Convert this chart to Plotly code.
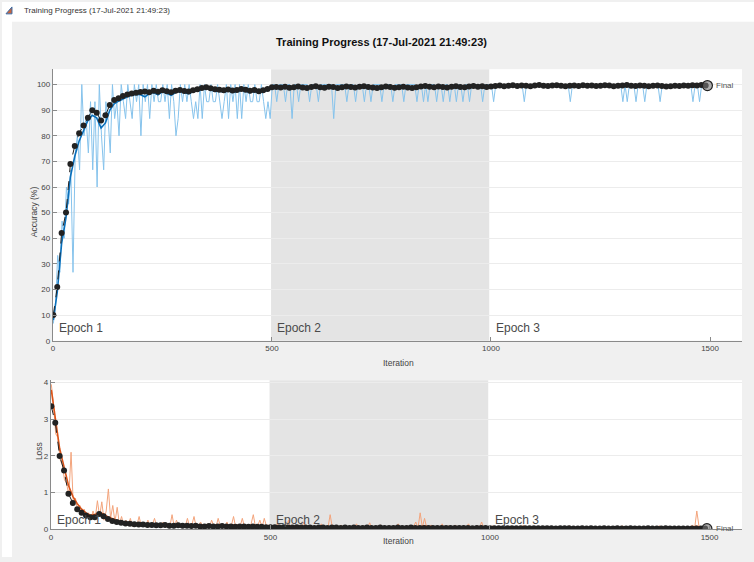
import plotly.graph_objects as go

W, H = 754, 562
EPOCH_LEN = 498
FINAL_ITER = 1494

iter_ticks = [0, 500, 1000, 1500]
acc_ticks = [0, 10, 20, 30, 40, 50, 60, 70, 80, 90, 100]
loss_ticks = [0, 1, 2, 3, 4]
epoch_names = ["Epoch 1", "Epoch 2", "Epoch 3"]

# mini-batch (raw) training accuracy, every 5 iterations starting at 1
train_acc = [
    6.7, 13.3, 33.3, 26.7, 46.7, 40, 60, 53.3, 66.7, 26.7,
    73.3, 80, 66.7, 100, 80, 86.7, 73.3, 93.3, 66.7, 93.3,
    60, 100, 80, 66.7, 93.3, 86.7, 73.3, 100, 86.7, 93.3,
    80, 100, 93.3, 86.7, 100, 93.3, 86.7, 100, 93.3, 100,
    80, 100, 93.3, 100, 86.7, 100, 93.3, 100, 93.3, 93.3,
    100, 93.3, 100, 86.7, 100, 93.3, 80, 86.7, 100, 93.3,
    100, 93.3, 100, 93.3, 86.7, 93.3, 86.7, 100, 86.7, 100,
    93.3, 93.3, 100, 93.3, 93.3, 100, 93.3, 86.7, 93.3, 100,
    86.7, 100, 93.3, 100, 86.7, 100, 86.7, 100, 93.3, 100,
    93.3, 93.3, 100, 93.3, 93.3, 100, 93.3, 86.7, 93.3, 86.7,
    100, 100, 93.3, 100, 100, 100, 93.3, 100, 100, 86.7,
    100, 100, 93.3, 100, 100, 100, 100, 93.3, 100, 100,
    100, 93.3, 100, 100, 100, 100, 100, 100, 86.7, 100,
    100, 100, 100, 100, 93.3, 100, 100, 100, 93.3, 100,
    100, 100, 93.3, 100, 100, 93.3, 100, 100, 100, 100,
    93.3, 100, 100, 100, 100, 93.3, 100, 100, 100, 100,
    93.3, 100, 100, 100, 100, 100, 93.3, 100, 100, 93.3,
    100, 93.3, 100, 100, 100, 93.3, 100, 100, 93.3, 100,
    100, 93.3, 100, 100, 93.3, 100, 100, 93.3, 100, 100,
    93.3, 100, 100, 100, 100, 100, 93.3, 100, 100, 100,
    100, 93.3, 100, 100, 100, 100, 100, 100, 100, 100,
    100, 100, 100, 100, 100, 93.3, 100, 100, 100, 100,
    100, 100, 100, 100, 100, 100, 100, 100, 100, 100,
    100, 100, 100, 100, 100, 100, 93.3, 100, 100, 100,
    100, 100, 100, 100, 100, 100, 100, 100, 100, 100,
    100, 100, 100, 100, 100, 100, 100, 100, 100, 100,
    93.3, 100, 93.3, 100, 100, 100, 93.3, 100, 100, 100,
    93.3, 100, 100, 100, 100, 100, 100, 93.3, 100, 100,
    100, 100, 100, 100, 100, 100, 100, 100, 100, 100,
    100, 100, 93.3, 100, 100, 93.3, 100, 100, 100,
]

# smoothed training accuracy, every 10 iterations (1, 10, 20, ...)
smooth_acc = [
    8, 19, 38, 48, 64, 72, 78, 82, 86, 88,
    87, 83, 85, 90, 92.5, 93.5, 94.5, 95.2, 95.8, 96.2,
    96.0, 95.2, 96.5, 96.9, 96.0, 97.2, 96.6, 95.8, 96.9, 97.4,
    96.8, 96.4, 97.2, 97.8, 98.2, 98.6, 97.8, 97.3, 97.5, 97.0,
    97.6, 96.9, 97.3, 97.9, 97.4, 96.8, 97.4, 96.7, 97.2, 97.9,
    98.4, 98.7, 98.2, 98.8, 98.4, 98.7, 99.0, 98.5, 98.3, 98.8,
    99.0, 98.6, 98.3, 98.9, 98.7, 98.2, 98.6, 99.0, 98.8, 98.5,
    98.9, 99.1, 98.7, 98.5, 98.3, 98.6, 99.0, 98.8, 98.4, 98.7,
    98.9, 98.5, 98.3, 98.7, 99.0, 99.2, 98.9, 98.6, 99.0, 98.8,
    98.5, 98.9, 99.1, 98.8, 98.6, 99.0, 99.2, 98.9, 99.1, 98.8,
    99.0, 99.3, 99.5, 99.2, 99.4, 99.6, 99.3, 99.5, 99.4, 99.2,
    99.5, 99.7, 99.4, 99.3, 99.5, 99.6, 99.4, 99.2, 99.4, 99.5,
    99.3, 99.6, 99.4, 99.5, 99.3, 99.4, 99.6, 99.5, 99.2, 99.4,
    99.1, 99.5, 99.2, 99.3, 99.5, 99.4, 99.2, 99.4, 99.5, 99.3,
    99.1, 99.2, 99.4, 99.3, 99.5, 99.2, 99.0, 99.3, 99.6, 99.5,
]

# validation accuracy, every 10 iterations (1, 10, 20, ...)
val_acc = [
    10, 21, 42, 50, 69, 76, 81, 84, 87, 90,
    89, 86, 88, 92, 94, 94.6, 95.5, 96.1, 96.5, 96.8,
    97.1, 97.3, 97.0, 97.6, 97.2, 97.8, 97.4, 97.0, 97.6, 97.9,
    97.5, 97.3, 97.8, 98.2, 98.6, 98.9, 98.5, 98.2, 98.0, 97.8,
    98.1, 97.7, 97.9, 98.3, 98.0, 97.6, 97.9, 97.4, 97.8, 98.3,
    98.9, 99.0, 98.8, 99.1, 98.7, 98.9, 99.2, 98.8, 98.6, 99.0,
    99.3, 98.9, 98.7, 99.1, 99.0, 98.6, 98.9, 99.2, 99.0, 98.8,
    99.1, 99.3, 99.0, 98.8, 98.6, 98.9, 99.2, 99.0, 98.7, 98.9,
    99.1, 98.8, 98.6, 98.9, 99.2, 99.4, 99.1, 98.9, 99.2, 99.0,
    98.8, 99.1, 99.3, 99.0, 98.9, 99.2, 99.4, 99.1, 99.3, 99.0,
    99.2, 99.4, 99.6, 99.3, 99.5, 99.7, 99.4, 99.6, 99.5, 99.3,
    99.6, 99.8, 99.5, 99.4, 99.6, 99.7, 99.5, 99.3, 99.5, 99.6,
    99.4, 99.7, 99.5, 99.6, 99.4, 99.5, 99.7, 99.6, 99.3, 99.5,
    99.6, 99.8, 99.5, 99.4, 99.6, 99.5, 99.3, 99.5, 99.6, 99.4,
    99.2, 99.3, 99.5, 99.4, 99.6, 99.5, 99.7, 99.6, 99.8, 99.6,
]
final_acc = 99.6

# mini-batch (raw) training loss, every 5 iterations starting at 1
train_loss = [
    3.95, 3.4, 2.6, 2.5, 1.9, 1.75, 1.35, 1.25, 0.9, 2.1,
    0.7, 0.85, 0.5, 0.65, 0.4, 0.55, 0.3, 0.45, 0.25, 0.5,
    0.3, 0.78, 0.35, 0.75, 0.25, 0.5, 1.1, 0.3, 0.65, 0.2,
    0.6, 0.15, 0.35, 0.12, 0.25, 0.1, 0.3, 0.08, 0.2, 0.12,
    0.35, 0.08, 0.15, 0.1, 0.25, 0.06, 0.12, 0.3, 0.08, 0.15,
    0.1, 0.2, 0.05, 0.12, 0.08, 0.4, 0.06, 0.25, 0.1, 0.05,
    0.15, 0.08, 0.3, 0.06, 0.12, 0.35, 0.05, 0.1, 0.2, 0.06,
    0.08, 0.15, 0.05, 0.25, 0.1, 0.06, 0.3, 0.08, 0.12, 0.05,
    0.2, 0.06, 0.1, 0.35, 0.05, 0.12, 0.08, 0.3, 0.06, 0.1,
    0.05, 0.15, 0.4, 0.06, 0.1, 0.25, 0.05, 0.3, 0.08, 0.12,
    0.04, 0.08, 0.03, 0.15, 0.05, 0.03, 0.1, 0.04, 0.25, 0.03,
    0.05, 0.12, 0.03, 0.06, 0.04, 0.2, 0.03, 0.08, 0.05, 0.03,
    0.1, 0.03, 0.05, 0.15, 0.03, 0.06, 0.04, 0.4, 0.05, 0.03,
    0.08, 0.03, 0.12, 0.04, 0.03, 0.06, 0.1, 0.03, 0.05, 0.15,
    0.03, 0.05, 0.1, 0.03, 0.04, 0.18, 0.03, 0.06, 0.03, 0.08,
    0.12, 0.03, 0.05, 0.03, 0.1, 0.04, 0.03, 0.07, 0.15, 0.03,
    0.05, 0.03, 0.1, 0.04, 0.03, 0.08, 0.2, 0.03, 0.45, 0.05,
    0.3, 0.03, 0.06, 0.12, 0.03, 0.05, 0.08, 0.03, 0.15, 0.04,
    0.03, 0.1, 0.04, 0.03, 0.12, 0.05, 0.03, 0.08, 0.03, 0.06,
    0.15, 0.03, 0.05, 0.03, 0.1, 0.04, 0.2, 0.03, 0.05, 0.03,
    0.02, 0.1, 0.03, 0.02, 0.05, 0.02, 0.03, 0.08, 0.02, 0.03,
    0.02, 0.04, 0.02, 0.03, 0.02, 0.12, 0.02, 0.03, 0.05, 0.02,
    0.03, 0.02, 0.06, 0.02, 0.02, 0.04, 0.02, 0.03, 0.02, 0.05,
    0.02, 0.03, 0.02, 0.05, 0.02, 0.02, 0.1, 0.02, 0.03, 0.02,
    0.04, 0.02, 0.02, 0.03, 0.02, 0.06, 0.02, 0.02, 0.03, 0.02,
    0.02, 0.05, 0.02, 0.02, 0.03, 0.02, 0.04, 0.02, 0.02, 0.03,
    0.1, 0.02, 0.08, 0.02, 0.03, 0.02, 0.09, 0.02, 0.03, 0.02,
    0.08, 0.02, 0.03, 0.02, 0.04, 0.02, 0.02, 0.1, 0.02, 0.03,
    0.02, 0.03, 0.02, 0.05, 0.02, 0.02, 0.03, 0.02, 0.04, 0.02,
    0.02, 0.03, 0.12, 0.02, 0.5, 0.08, 0.02, 0.03, 0.02,
]

# smoothed training loss, every 10 iterations
smooth_loss = [
    3.8, 3.0, 2.2, 1.7, 1.2, 0.9, 0.7, 0.55, 0.45, 0.38,
    0.4, 0.46, 0.42, 0.34, 0.28, 0.24, 0.21, 0.19, 0.17, 0.16,
    0.16, 0.15, 0.14, 0.15, 0.13, 0.14, 0.15, 0.12, 0.13, 0.12,
    0.12, 0.13, 0.12, 0.12, 0.11, 0.12, 0.11, 0.11, 0.12, 0.1,
    0.11, 0.1, 0.12, 0.1, 0.1, 0.11, 0.1, 0.12, 0.1, 0.1,
    0.08, 0.07, 0.08, 0.07, 0.07, 0.06, 0.07, 0.06, 0.06, 0.07,
    0.06, 0.06, 0.05, 0.07, 0.06, 0.05, 0.06, 0.05, 0.05, 0.06,
    0.05, 0.05, 0.06, 0.05, 0.05, 0.06, 0.05, 0.05, 0.05, 0.06,
    0.05, 0.05, 0.06, 0.05, 0.07, 0.09, 0.07, 0.06, 0.05, 0.05,
    0.05, 0.05, 0.04, 0.05, 0.05, 0.04, 0.05, 0.05, 0.04, 0.05,
    0.04, 0.04, 0.03, 0.04, 0.03, 0.03, 0.03, 0.04, 0.03, 0.03,
    0.03, 0.03, 0.03, 0.03, 0.03, 0.03, 0.03, 0.03, 0.03, 0.03,
    0.03, 0.03, 0.03, 0.03, 0.03, 0.03, 0.03, 0.03, 0.03, 0.03,
    0.04, 0.04, 0.03, 0.03, 0.04, 0.03, 0.03, 0.04, 0.03, 0.03,
    0.03, 0.03, 0.03, 0.03, 0.03, 0.03, 0.04, 0.08, 0.05, 0.04,
]

# validation loss, every 10 iterations
val_loss = [
    3.35, 2.9, 2.0, 1.6, 0.97, 0.72, 0.55, 0.45, 0.38, 0.33,
    0.33, 0.42, 0.36, 0.28, 0.23, 0.2, 0.18, 0.16, 0.15, 0.14,
    0.13, 0.13, 0.12, 0.12, 0.11, 0.11, 0.12, 0.1, 0.1, 0.11,
    0.1, 0.1, 0.09, 0.1, 0.08, 0.08, 0.09, 0.08, 0.08, 0.09,
    0.08, 0.08, 0.07, 0.08, 0.08, 0.07, 0.08, 0.07, 0.07, 0.06,
    0.06, 0.06, 0.05, 0.06, 0.05, 0.05, 0.06, 0.05, 0.05, 0.05,
    0.04, 0.05, 0.05, 0.04, 0.05, 0.05, 0.04, 0.05, 0.04, 0.05,
    0.04, 0.04, 0.05, 0.04, 0.04, 0.05, 0.04, 0.04, 0.04, 0.05,
    0.04, 0.04, 0.05, 0.04, 0.04, 0.04, 0.04, 0.04, 0.04, 0.04,
    0.04, 0.04, 0.04, 0.04, 0.04, 0.04, 0.03, 0.04, 0.04, 0.04,
    0.03, 0.03, 0.03, 0.03, 0.03, 0.03, 0.03, 0.03, 0.03, 0.03,
    0.03, 0.03, 0.03, 0.03, 0.03, 0.02, 0.03, 0.03, 0.03, 0.02,
    0.02, 0.03, 0.02, 0.03, 0.02, 0.02, 0.03, 0.02, 0.02, 0.03,
    0.02, 0.02, 0.03, 0.02, 0.02, 0.02, 0.03, 0.02, 0.02, 0.02,
    0.03, 0.02, 0.02, 0.02, 0.02, 0.02, 0.02, 0.02, 0.02, 0.02,
]
final_loss = 0.02

train_iter = [1 + 5 * i for i in range(len(train_acc))]
train_iter_l = [1 + 5 * i for i in range(len(train_loss))]
val_iter = [1] + [10 * k for k in range(1, len(val_acc))]
smooth_iter = [1] + [10 * k for k in range(1, len(smooth_acc))]
val_iter_l = [1] + [10 * k for k in range(1, len(val_loss))]
smooth_iter_l = [1] + [10 * k for k in range(1, len(smooth_loss))]


def px_x(p):
    return p / W


def px_y(p):
    return 1 - p / H


FONT = "Liberation Sans, Arial, Helvetica, sans-serif"
VAL_COLOR = "#222222"
PANEL = "#f0f0f0"

fig = go.Figure()

# ---- accuracy panel ----
fig.add_trace(go.Scatter(x=train_iter, y=train_acc, mode="lines",
                         line=dict(color="#86c3ec", width=1), xaxis="x", yaxis="y"))
fig.add_trace(go.Scatter(x=smooth_iter, y=smooth_acc, mode="lines",
                         line=dict(color="#0a6fba", width=1.6), xaxis="x", yaxis="y"))
fig.add_trace(go.Scatter(x=val_iter, y=val_acc, mode="lines+markers",
                         line=dict(color=VAL_COLOR, width=1, dash="dash"),
                         marker=dict(color=VAL_COLOR, size=6), xaxis="x", yaxis="y"))
fig.add_trace(go.Scatter(x=[FINAL_ITER], y=[final_acc], mode="markers",
                         marker=dict(color="rgba(120,120,120,0.6)", size=10,
                                     line=dict(color="#222", width=1.2)),
                         xaxis="x", yaxis="y"))

# ---- loss panel ----
fig.add_trace(go.Scatter(x=train_iter_l, y=train_loss, mode="lines",
                         line=dict(color="#f3a47c", width=1), xaxis="x2", yaxis="y2"))
fig.add_trace(go.Scatter(x=smooth_iter_l, y=smooth_loss, mode="lines",
                         line=dict(color="#d95319", width=1.6), xaxis="x2", yaxis="y2"))
fig.add_trace(go.Scatter(x=val_iter_l, y=val_loss, mode="lines+markers",
                         line=dict(color=VAL_COLOR, width=1, dash="dash"),
                         marker=dict(color=VAL_COLOR, size=6), xaxis="x2", yaxis="y2"))
fig.add_trace(go.Scatter(x=[FINAL_ITER], y=[final_loss], mode="markers",
                         marker=dict(color="rgba(120,120,120,0.6)", size=10,
                                     line=dict(color="#222", width=1.2)),
                         xaxis="x2", yaxis="y2"))

axis_common = dict(showline=True, linecolor="#8a8a8a", linewidth=1, ticks="inside",
                   ticklen=4, tickcolor="#8a8a8a", tickfont=dict(family=FONT, size=8, color="#444"),
                   zeroline=False, fixedrange=True)

fig.update_layout(
    width=W, height=H, autosize=False,
    margin=dict(l=0, r=0, t=0, b=0),
    paper_bgcolor=PANEL, plot_bgcolor="white",
    showlegend=False, hovermode=False,
    xaxis=dict(domain=[px_x(51), px_x(742)], anchor="y", range=[0, 1573],
               tickvals=iter_ticks, showgrid=False, **axis_common),
    yaxis=dict(domain=[px_y(343), px_y(68)], anchor="x", range=[0, 106],
               tickvals=acc_ticks, showgrid=True, gridcolor="#ececec", gridwidth=1,
               **axis_common),
    xaxis2=dict(domain=[px_x(49), px_x(742)], anchor="y2", range=[0, 1574],
                tickvals=iter_ticks, showgrid=False, **axis_common),
    yaxis2=dict(domain=[px_y(534), px_y(383)], anchor="x2", range=[0, 4.06],
                tickvals=loss_ticks, showgrid=True, gridcolor="#ececec", gridwidth=1,
                **axis_common),
)

shapes = [
    # grey panel on right and bottom margins (explicit)
    dict(type="rect", xref="paper", yref="paper", x0=px_x(742), x1=1, y0=0, y1=px_y(20),
         fillcolor=PANEL, line=dict(width=0), layer="below"),
    dict(type="rect", xref="paper", yref="paper", x0=px_x(10), x1=1, y0=0, y1=px_y(534),
         fillcolor=PANEL, line=dict(width=0), layer="below"),
    # white window title strip and left border
    dict(type="rect", xref="paper", yref="paper", x0=0, x1=1, y0=px_y(20), y1=1,
         fillcolor="white", line=dict(width=0), layer="below"),
    dict(type="rect", xref="paper", yref="paper", x0=0, x1=px_x(10), y0=0, y1=1,
         fillcolor="white", line=dict(width=0), layer="below"),
    # small window icon
    dict(type="path", xref="paper", yref="paper",
         path="M %f %f L %f %f L %f %f Z" % (px_x(4), px_y(12), px_x(10), px_y(5), px_x(10), px_y(12)),
         fillcolor="#c8643c", line=dict(color="#3c6ea8", width=1), layer="below"),
    # epoch 2 shading
    dict(type="rect", xref="x", yref="y domain", x0=EPOCH_LEN, x1=2 * EPOCH_LEN, y0=0, y1=1,
         fillcolor="#e4e4e4", line=dict(width=0), layer="below"),
    dict(type="rect", xref="x2", yref="y2 domain", x0=EPOCH_LEN, x1=2 * EPOCH_LEN, y0=0, y1=1,
         fillcolor="#e4e4e4", line=dict(width=0), layer="below"),
]
fig.update_layout(shapes=shapes)

ann = []
# window title
ann.append(dict(xref="paper", yref="paper", x=px_x(20), y=px_y(9), xanchor="left", yanchor="middle",
                text="Training Progress (17-Jul-2021 21:49:23)", showarrow=False,
                font=dict(family=FONT, size=8, color="#333")))
# main title
ann.append(dict(xref="paper", yref="paper", x=px_x(381), y=px_y(40), xanchor="center", yanchor="middle",
                text="<b>Training Progress (17-Jul-2021 21:49:23)</b>", showarrow=False,
                font=dict(family=FONT, size=11, color="#111")))
# axis titles
ann.append(dict(xref="paper", yref="paper", x=px_x(25), y=px_y(212), textangle=-90,
                text="Accuracy (%)", showarrow=False, font=dict(family=FONT, size=8.5, color="#444")))
ann.append(dict(xref="paper", yref="paper", x=px_x(398), y=px_y(366),
                text="Iteration", showarrow=False, font=dict(family=FONT, size=8.5, color="#444")))
ann.append(dict(xref="paper", yref="paper", x=px_x(30), y=px_y(466), textangle=-90,
                text="Loss", showarrow=False, font=dict(family=FONT, size=8.5, color="#444")))
ann.append(dict(xref="paper", yref="paper", x=px_x(398), y=px_y(553),
                text="Iteration", showarrow=False, font=dict(family=FONT, size=8.5, color="#444")))
# epoch labels
for i, name in enumerate(epoch_names):
    ann.append(dict(xref="x", yref="y", x=i * EPOCH_LEN + 10, y=1.5, xanchor="left", yanchor="bottom",
                    text=name, showarrow=False, font=dict(family=FONT, size=12, color="#4a4a4a")))
    ann.append(dict(xref="x2", yref="y2", x=i * EPOCH_LEN + 10, y=0.02, xanchor="left", yanchor="bottom",
                    text=name, showarrow=False, font=dict(family=FONT, size=12, color="#4a4a4a")))
# final labels
ann.append(dict(xref="x", yref="y", x=FINAL_ITER, y=final_acc, xanchor="left", yanchor="middle", xshift=7,
                text="Final", showarrow=False, font=dict(family=FONT, size=8, color="#555")))
ann.append(dict(xref="x2", yref="y2", x=FINAL_ITER, y=final_loss, xanchor="left", yanchor="middle", xshift=7,
                text="Final", showarrow=False, font=dict(family=FONT, size=8, color="#555")))
fig.update_layout(annotations=ann)

fig.write_html(
    "out.html",
    config={"displayModeBar": False, "staticPlot": True},
    post_script="document.body.style.margin='0';document.body.style.overflow='hidden';",
)
